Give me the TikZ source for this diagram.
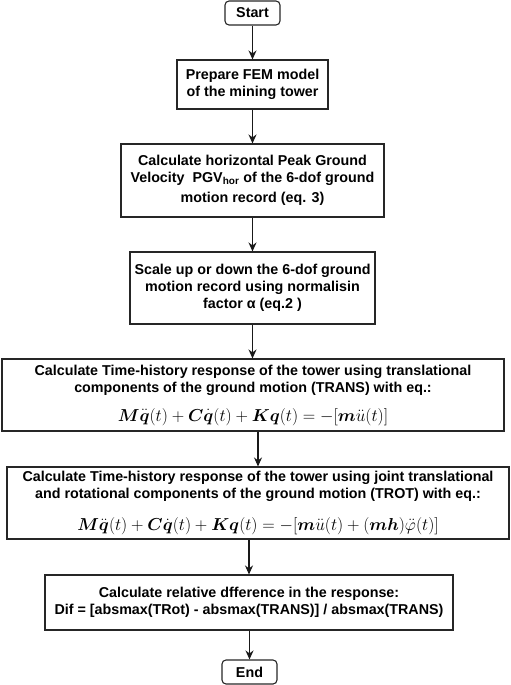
\documentclass[tikz,border=0pt]{standalone}
\usepackage{amsmath}
\usepackage[no-math]{fontspec}
\setmainfont{Liberation Sans}
\usetikzlibrary{arrows.meta}
\newcommand{\eqfont}{\fontsize{17.5}{17.5}\selectfont}
\begin{document}
\begin{tikzpicture}[x=1pt,y=-1pt,
  box/.style={draw=black!85, line width=1.1pt, inner sep=0pt, align=center,
    font=\fontsize{14.3}{17}\selectfont\bfseries},
  term/.style={box, rounded corners=4pt},
  arr/.style={-{Stealth[length=9pt,width=8pt]}, line width=1.1pt, draw=black!90}]
\useasboundingbox (0,0) rectangle (511,685);

\node[term, minimum width=55pt, minimum height=24pt] (start) at (252.5,13) {Start};
\node[box, minimum width=151pt, minimum height=49pt] (fem) at (252.5,84.5)
  {Prepare FEM model\\of the mining tower};
\node[box, minimum width=263pt, minimum height=73pt] (pgv) at (252.5,180.5)
  {Calculate horizontal Peak Ground\\Velocity\ \ PGV\textsubscript{hor} of the 6-dof ground\\[3.5pt]motion record (eq. 3)};
\node[box, minimum width=245pt, minimum height=72pt] (scale) at (252.5,288)
  {Scale up or down the 6-dof ground\\motion record using normalisin\\factor α (eq.2 )};
\node[box, minimum width=502pt, minimum height=72pt] (trans) at (253,395)
  {Calculate Time-history response of the tower using translational\\components of the ground motion (TRANS) with eq.:\\[12pt]
  {\eqfont$\boldsymbol{M}\ddot{\boldsymbol{q}}(t)+\boldsymbol{C}\dot{\boldsymbol{q}}(t)+\boldsymbol{K}\boldsymbol{q}(t)=-[\boldsymbol{m}\ddot{u}(t)]$}};
\node[box, minimum width=502pt, minimum height=72pt] (trot) at (258,503)
  {Calculate Time-history response of the tower using joint translational\\and rotational components of the ground motion (TROT) with eq.:\\[15pt]
  {\eqfont$\boldsymbol{M}\ddot{\boldsymbol{q}}(t)+\boldsymbol{C}\dot{\boldsymbol{q}}(t)+\boldsymbol{K}\boldsymbol{q}(t)=-[\boldsymbol{m}\ddot{u}(t)+(\boldsymbol{mh})\ddot{\varphi}(t)]$}};
\node[box, minimum width=408pt, minimum height=55pt] (dif) at (249,602.5)
  {Calculate relative dfference in the response:\\Dif = [absmax(TRot) - absmax(TRANS)] / absmax(TRANS)};
\node[term, minimum width=55pt, minimum height=24pt] (end) at (249.5,672) {End};

\draw[arr] (start) -- (fem);
\draw[arr] (fem) -- (pgv);
\draw[arr] (pgv) -- (scale);
\draw[arr] (scale.south) -- (trans.north -| scale.south);
\draw[arr] (trot.north |- trans.south) -- (trot.north);
\draw[arr] (dif.north |- trot.south) -- (dif.north);
\draw[arr] (end.north |- dif.south) -- (end.north);
\end{tikzpicture}
\end{document}
